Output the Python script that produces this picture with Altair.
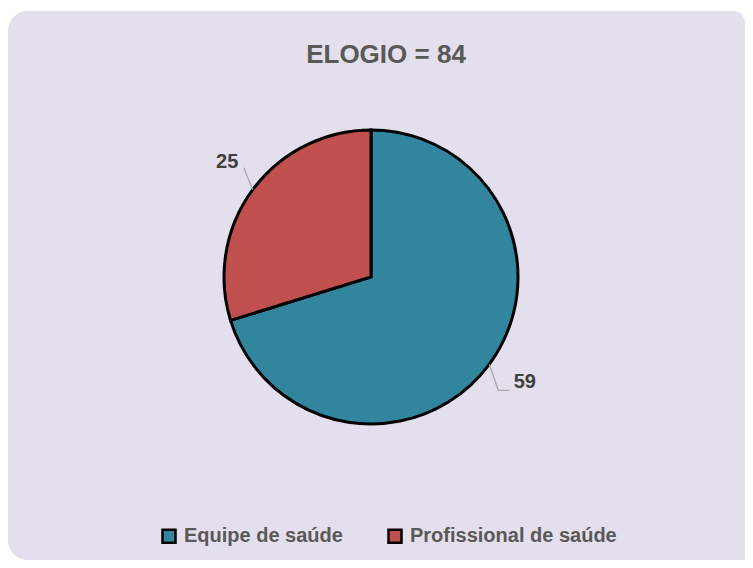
import math
import altair as alt
import pandas as pd

# ---- data ----
categories = ["Equipe de saúde", "Profissional de saúde"]
values = [59, 25]
colors = ["#31859C", "#C0504D"]
title_text = "ELOGIO = 84"

# ---- layout (pixels, view coordinates) ----
W, H = 737, 549
CX, CY = 363, 266
R = 147
FONT = "Liberation Sans"
BG = "#E4DFEC"

df = pd.DataFrame({"categoria": categories, "valor": values, "ordem": list(range(len(values)))})

# leader lines derived from the slice mid-angles
total = sum(values)
rows = []
cum = 0
for c, v in zip(categories, values):
    mid = (cum + v / 2) / total * 2 * math.pi
    cum += v
    s, co = math.sin(mid), math.cos(mid)
    x0, y0 = CX + R * s, CY - R * co
    sx = 1 if s > 0 else -1
    sy = 1 if co < 0 else -1
    pts = [(x0, y0), (x0 + sx * 9, y0 + sy * (26 if sy > 0 else 22))]
    if sx > 0:
        pts.append((pts[-1][0] + 11, pts[-1][1]))
    for k, (px, py) in enumerate(pts):
        rows.append({"categoria": c, "k": k, "px": px, "py": py})
lines = pd.DataFrame(rows)

background = alt.Chart(pd.DataFrame({"b": [0]})).mark_rect(
    color=BG, cornerRadiusTopLeft=20, cornerRadiusBottomLeft=20, cornerRadiusTopRight=12
).encode(x=alt.value(0), x2=alt.value(W), y=alt.value(0), y2=alt.value(H))

base = alt.Chart(df)

pie = base.mark_arc(radius=R, stroke="black", strokeWidth=3).encode(
    theta=alt.Theta("valor:Q", stack=True),
    color=alt.Color(
        "categoria:N",
        scale=alt.Scale(domain=categories, range=colors),
        legend=alt.Legend(
            title=None,
            orient="none",
            legendX=151,
            legendY=515,
            direction="horizontal",
            symbolType="square",
            symbolSize=169,
            symbolStrokeColor="black",
            symbolStrokeWidth=2.5,
            symbolOpacity=1,
            labelFont=FONT,
            labelFontSize=20,
            labelFontWeight="bold",
            labelColor="#595959",
            labelOffset=5,
            labelLimit=400,
            columnPadding=40,
            padding=0,
        ),
    ),
    order=alt.Order("ordem:Q"),
    x=alt.value(CX),
    y=alt.value(CY),
)

labels = base.mark_text(
    radius=185, dx=5, dy=-5, font=FONT, fontSize=20, fontWeight="bold", color="#404040"
).encode(
    theta=alt.Theta("valor:Q", stack=True),
    order=alt.Order("ordem:Q"),
    text=alt.Text("valor:Q"),
    x=alt.value(CX),
    y=alt.value(CY),
)

leaders = alt.Chart(lines).mark_line(color="#A6A6A6", strokeWidth=1.2).encode(
    x=alt.X("px:Q", scale=alt.Scale(domain=[0, W]), axis=None),
    y=alt.Y("py:Q", scale=alt.Scale(domain=[0, H], reverse=True), axis=None),
    detail="categoria:N",
    order="k:Q",
)

title = alt.Chart(pd.DataFrame({"t": [title_text]})).mark_text(
    font=FONT, fontSize=26, fontWeight="bold", color="#595959", baseline="middle"
).encode(text="t:N", x=alt.value(378), y=alt.value(44))

chart = (
    alt.layer(background, pie, leaders, labels, title)
    .properties(
        width=W,
        height=H,
        autosize=alt.AutoSizeParams(type="none"),
        padding={"left": 0, "top": 3, "right": 0, "bottom": 0},
        background="white",
    )
    .configure_view(stroke="transparent")
)

chart.save("out.html", embed_options={"renderer": "svg", "actions": False})
